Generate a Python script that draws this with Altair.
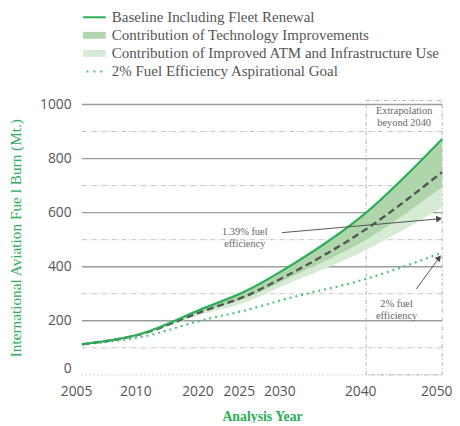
import altair as alt
import pandas as pd

# ---- data ----
years = [2005, 2010, 2020, 2025, 2030, 2040, 2050]
baseline = [113, 152, 246, 308, 392, 600, 872]
tech_lower = [113, 151, 234, 282, 352, 500, 695]
atm_lower = [113, 150, 225, 267, 332, 462, 620]
trend_139 = [113, 151, 236, 290, 364, 539, 750]
goal_2pct = [113, 140, 203, 238, 280, 355, 452]

solid_grid = [200, 400, 600, 800, 1000]
dash_grid = [100, 300, 500, 700, 900]
zero_grid = [0]
y_ticks = [0, 200, 400, 600, 800, 1000]

legend_cats = [
    "Baseline Including Fleet Renewal",
    "Contribution of Technology Improvements",
    "Contribution of Improved ATM and Infrastructure Use",
    "2% Fuel Efficiency Aspirational Goal",
]

box_x = [2040]
box_x2 = [2050]
box_y = [0]
box_y2 = [1015]

arrow_x = [2029.6, 2046.6]
arrow_y = [526, 318]
arrow_x2 = [2049.6, 2049.6]
arrow_y2 = [577, 433]
arrow_angle = [355, 308]

note_text = ["1.39% fuel\nefficiency", "2% fuel\nefficiency", "Extrapolation\nbeyond 2040"]
note_x = [2025, 2044, 2045]
note_y = [528, 262, 975]

# ---- styling ----
GREEN = "#2aae57"
GREEN_DOT = "#48c274"
DARK_BAND = "#aed6aa"
LIGHT_BAND = "#d6ebd3"
x_range = [0, 60, 123, 165, 206, 288, 365]

df = pd.DataFrame({
    "year": years, "baseline": baseline, "tech": tech_lower, "atm": atm_lower,
    "trend": trend_139, "goal": goal_2pct,
})

X_SCALE = alt.Scale(domain=years, range=x_range, nice=False, zero=False)
Y_SCALE = alt.Scale(domain=[0, 1000], nice=False, zero=False)

x_axis = alt.Axis(
    values=years, format="d", title="Analysis Year", labelOffset=-6, ticks=False,
    domain=False, grid=False, labelFont="Open Sans", labelFontSize=14, labelColor="#555",
    labelPadding=10, labelFlush=False, labelOverlap=False, titleFont="Liberation Serif",
    titleFontSize=14, titleFontWeight="bold", titleColor=GREEN, titleY=42,
    titleBaseline="middle",
)
y_axis = alt.Axis(
    values=y_ticks, format="d", title="International Aviation Fue l Burn (Mt.)",
    ticks=False, domain=False, grid=False, labelFont="Open Sans", labelFontSize=14,
    labelColor="#555", labelPadding=11,
    labelOffset={"condition": {"test": "datum.value == 0", "value": -6}, "value": 0},
    titleFont="Liberation Serif", titleFontSize=15.5,
    titleFontWeight="normal", titleColor=GREEN, titleX=-67, titleY=135, titleAngle=270,
    titleBaseline="middle", titleAlign="center",
)


def X(field):
    return alt.X(field, type="quantitative", scale=X_SCALE, axis=x_axis)


def Y(field):
    return alt.Y(field, type="quantitative", scale=Y_SCALE, axis=y_axis)


grid_solid = alt.Chart(pd.DataFrame({"v": solid_grid})).mark_rule(
    color="#9c9c9c", strokeWidth=1.4).encode(y=Y("v"))
grid_dash = alt.Chart(pd.DataFrame({"v": dash_grid})).mark_rule(
    color="#c4c4c4", strokeWidth=1, strokeDash=[5, 2, 1, 2]).encode(y=Y("v"))
grid_zero = alt.Chart(pd.DataFrame({"v": zero_grid})).mark_rule(
    color="#cfcfcf", strokeWidth=1, strokeDash=[2, 2]).encode(y=Y("v"))

box = alt.Chart(pd.DataFrame({"x": box_x, "x2": box_x2, "y": box_y, "y2": box_y2})).mark_rect(
    fill=None, fillOpacity=0, stroke="#b0b0b0", strokeWidth=1, strokeDash=[4, 2, 1, 2]
).encode(x=X("x"), x2="x2", y=Y("y"), y2="y2")

INTERP = "monotone"
base = alt.Chart(df)
band_light = base.mark_area(color=LIGHT_BAND, interpolate=INTERP).encode(
    x=X("year"), y=Y("tech"), y2="atm")
band_dark = base.mark_area(color=DARK_BAND, interpolate=INTERP).encode(
    x=X("year"), y=Y("baseline"), y2="tech")
goal_line = base.mark_line(color=GREEN_DOT, strokeWidth=2.2, strokeDash=[2, 4],
                           interpolate=INTERP).encode(x=X("year"), y=Y("goal"))
trend_line = base.mark_line(color="#555555", strokeWidth=2.4, strokeDash=[7, 4],
                            interpolate=INTERP).encode(x=X("year"), y=Y("trend"))
base_line = base.mark_line(color=GREEN, strokeWidth=2.2, interpolate=INTERP).encode(
    x=X("year"), y=Y("baseline"))

arr_df = pd.DataFrame({"x": arrow_x, "y": arrow_y, "x2": arrow_x2, "y2": arrow_y2,
                       "a": arrow_angle})
arrows = alt.Chart(arr_df).mark_rule(color="#555", strokeWidth=1).encode(
    x=X("x"), y=Y("y"), x2="x2", y2="y2")
heads = alt.Chart(arr_df).mark_point(shape="triangle-right", filled=True, color="#444",
                                     size=45, opacity=1).encode(
    x=X("x2"), y=Y("y2"), angle=alt.Angle("a:Q", scale=None))

notes = alt.Chart(pd.DataFrame({"t": note_text, "x": note_x, "y": note_y})).mark_text(
    font="Liberation Serif", fontSize=10.5, color="#666", lineBreak="\n", align="center",
    baseline="middle", lineHeight=12).encode(x=X("x"), y=Y("y"), text="t:N")

# legend built from the categories (no visible points: coordinates are null)
legend_paths = [
    "M-2.3,-0.2H2.3V0.2H-2.3Z",
    "M-2.3,-0.7H2.3V0.7H-2.3Z",
    "M-2.3,-0.7H2.3V0.7H-2.3Z",
    "M-1.6,-0.2h0.4v0.4h-0.4Z M-0.2,-0.2h0.4v0.4h-0.4Z M1.2,-0.2h0.4v0.4h-0.4Z",
]
legend_colors = [GREEN, DARK_BAND, LIGHT_BAND, GREEN_DOT]
leg = alt.Legend(
    title=None, orient="none", legendX=5, legendY=-96, padding=0, symbolSize=100,
    labelFont="Liberation Serif", labelFontSize=15.2, labelColor="#555", labelOffset=10,
    rowPadding=2.3, symbolStrokeWidth=0, symbolOpacity=1, labelLimit=400,
)
leg_df = pd.DataFrame({"cat": legend_cats, "x": [None] * 4, "y": [None] * 4})
legend_layer = alt.Chart(leg_df).mark_point(filled=True, opacity=1).encode(
    x=X("x"), y=Y("y"),
    color=alt.Color("cat:N", scale=alt.Scale(domain=legend_cats, range=legend_colors), legend=leg),
    shape=alt.Shape("cat:N", scale=alt.Scale(domain=legend_cats, range=legend_paths), legend=leg),
)

chart = alt.layer(
    grid_zero, grid_dash, grid_solid, box, band_light, band_dark, goal_line, trend_line,
    base_line, arrows, heads, notes, legend_layer,
).properties(
    width=365, height=274,
    autosize=alt.AutoSizeParams(type="none"),
    padding={"left": 75, "top": 95, "right": 10, "bottom": 46},
).configure_view(stroke=None)

chart.save("out.html", embed_options={"renderer": "svg", "actions": False})
